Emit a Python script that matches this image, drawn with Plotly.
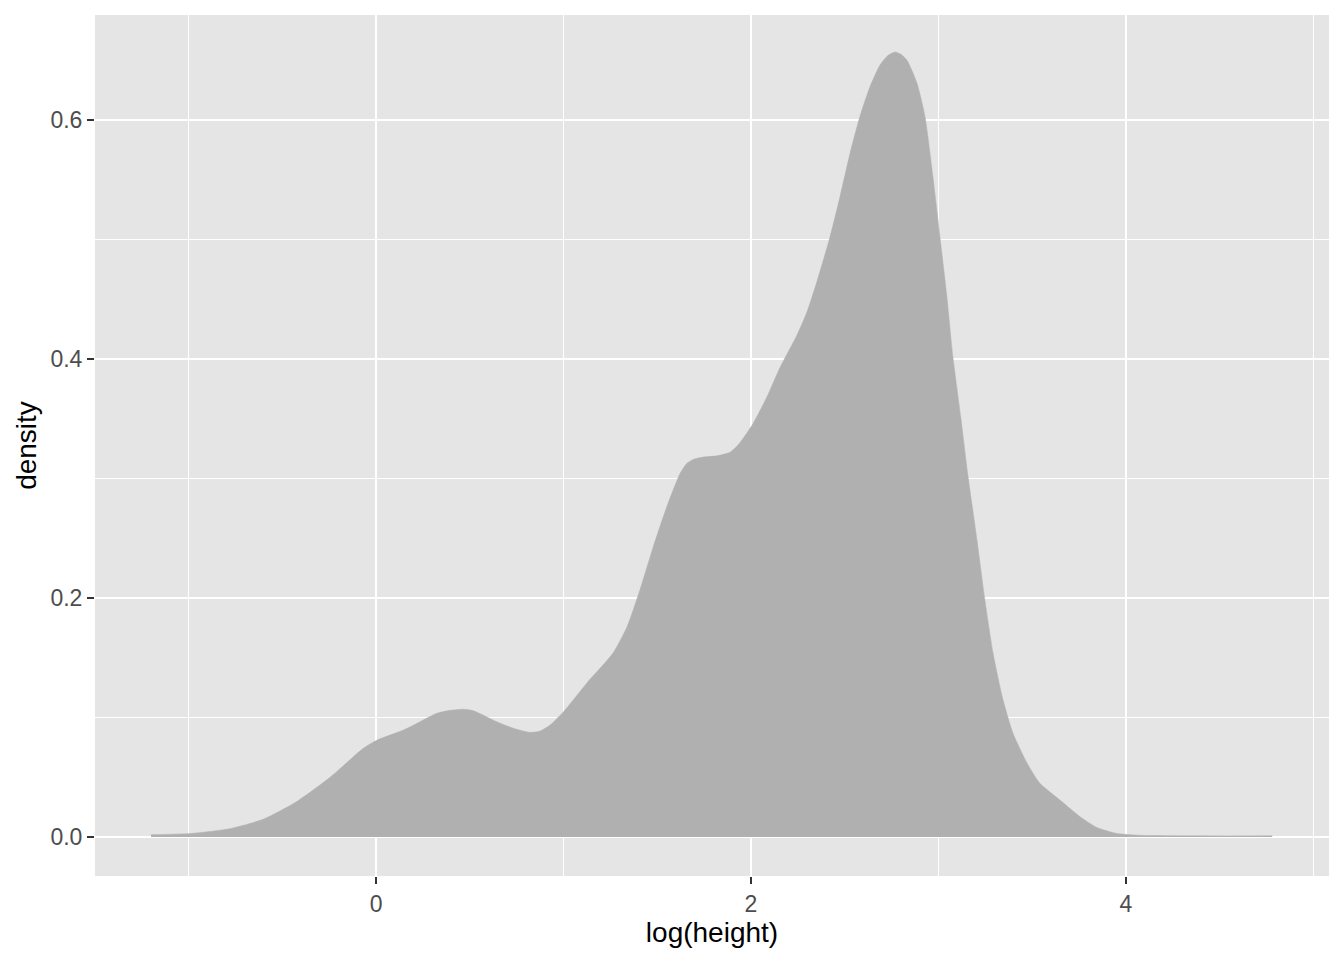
import plotly.graph_objects as go

# density curve of log(height)
log_height = [-1.2, -0.99, -0.78, -0.60, -0.42, -0.245, -0.068, 0.004, 0.146, 0.235,
              0.324, 0.395, 0.466, 0.519, 0.572, 0.644, 0.732, 0.821, 0.875, 0.928,
              0.999, 1.125, 1.264, 1.339, 1.408, 1.479, 1.550, 1.621, 1.657, 1.692,
              1.746, 1.817, 1.888, 1.941, 2.011, 2.084, 2.155, 2.245, 2.30, 2.352,
              2.421, 2.475, 2.528, 2.581, 2.635, 2.688, 2.73, 2.768, 2.80, 2.832,
              2.885, 2.928, 2.971, 3.008, 3.045, 3.077, 3.12, 3.155, 3.205, 3.248,
              3.291, 3.344, 3.397, 3.472, 3.541, 3.648, 3.755, 3.845, 3.952, 4.075,
              4.4, 4.78]
density = [0.002, 0.003, 0.007, 0.015, 0.030, 0.050, 0.0742, 0.081, 0.0895, 0.0965,
           0.1035, 0.106, 0.107, 0.1057, 0.102, 0.0965, 0.091, 0.0876, 0.0887, 0.0937,
           0.1047, 0.129, 0.154, 0.176, 0.207, 0.243, 0.276, 0.304, 0.3125, 0.316,
           0.318, 0.319, 0.322, 0.330, 0.346, 0.368, 0.393, 0.420, 0.440, 0.465,
           0.502, 0.536, 0.572, 0.603, 0.628, 0.646, 0.654, 0.657, 0.655, 0.650,
           0.631, 0.603, 0.552, 0.502, 0.452, 0.402, 0.350, 0.305, 0.249, 0.198,
           0.154, 0.115, 0.087, 0.062, 0.045, 0.031, 0.017, 0.008, 0.003, 0.0015,
           0.001, 0.001]

x_ticks = [0, 2, 4]
y_ticks = [0.0, 0.2, 0.4, 0.6]
y_tick_labels = ["0.0", "0.2", "0.4", "0.6"]

FONT = "Liberation Sans, Arial, Helvetica, sans-serif"

fig = go.Figure()
fig.add_trace(go.Scatter(
    x=log_height, y=density, mode="lines", fill="tozeroy",
    fillcolor="#B0B0B0", line=dict(color="#B0B0B0", width=0.5, shape="spline", smoothing=0.6),
    hoverinfo="skip", showlegend=False,
))

axis_common = dict(
    showline=False, zeroline=False, showgrid=True, gridcolor="white", gridwidth=2,
    ticks="outside", ticklen=7, tickwidth=2, tickcolor="#333333",
    tickfont=dict(family=FONT, size=23, color="#4D4D4D"),
)

fig.update_layout(
    width=1328, height=944,
    paper_bgcolor="white", plot_bgcolor="#E5E5E5",
    margin=dict(l=87, r=7, t=7, b=76),
    font=dict(family=FONT),
    xaxis=dict(
        **axis_common,
        range=[-1.499, 5.083], tickvals=x_ticks, ticktext=[str(v) for v in x_ticks],
        minor=dict(dtick=1, tick0=0, showgrid=True, gridcolor="white", gridwidth=1, ticks=""),
        title=dict(text="log(height)", font=dict(family=FONT, size=28, color="black"), standoff=3),
    ),
    yaxis=dict(
        **axis_common,
        range=[-0.0326, 0.6879], tickvals=y_ticks, ticktext=y_tick_labels,
        minor=dict(dtick=0.1, tick0=0, showgrid=True, gridcolor="white", gridwidth=1, ticks=""),
        title=dict(text="density", font=dict(family=FONT, size=28, color="black"), standoff=5),
    ),
)

fig.write_html("out.html")
